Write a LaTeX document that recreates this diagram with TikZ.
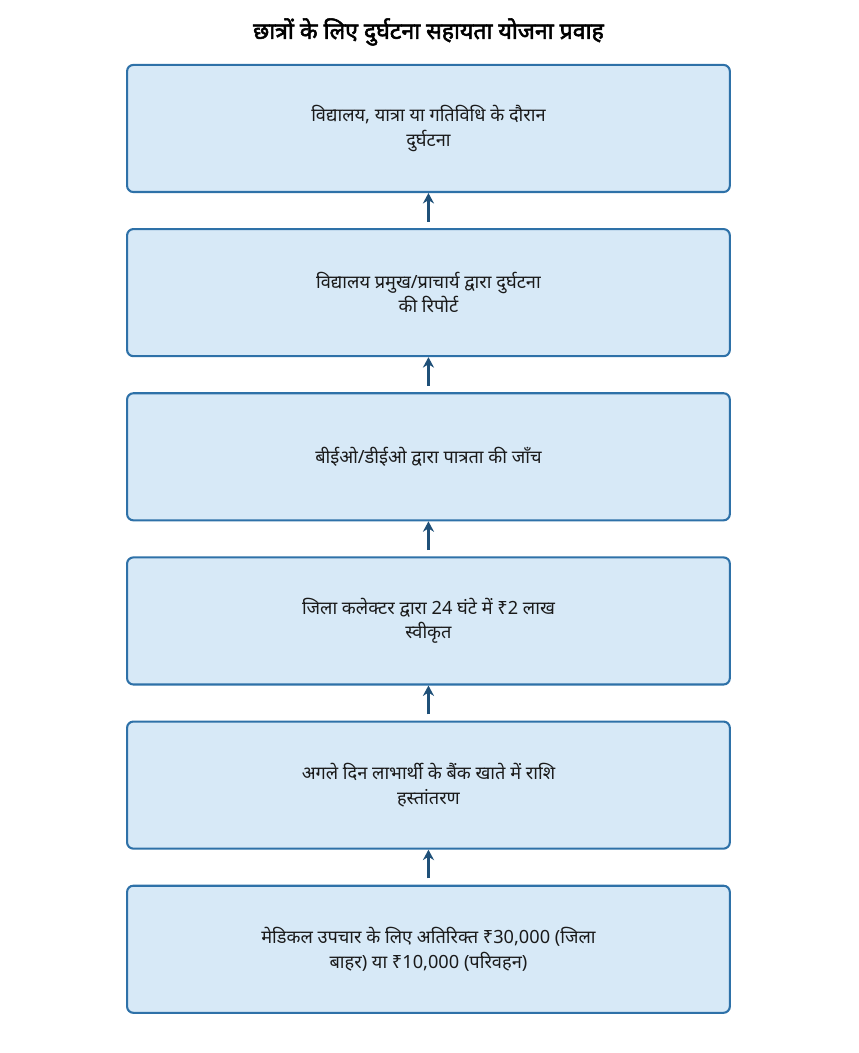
\documentclass[tikz,border=0pt]{standalone}
\usepackage{fontspec}
\setmainfont[Script=Devanagari]{Noto Sans}
\newfontfamily\titlefont[Script=Devanagari, FakeBold=2.4]{Noto Sans}
\usetikzlibrary{positioning}
\usetikzlibrary{arrows.meta}

\definecolor{boxfill}{HTML}{D7E9F7}
\definecolor{boxline}{HTML}{2E71A8}
\definecolor{arrowcol}{HTML}{1F5078}
\definecolor{textcol}{HTML}{1A1A1A}

\tikzset{
    stepbox/.style={draw=boxline, fill=boxfill, line width=1.5pt, rounded corners=4.5pt,
        minimum width=434pt, minimum height=91.5pt, align=center, text=textcol,
        font=\fontsize{13.1}{17.5}\selectfont},
    flowarrow/.style={draw=arrowcol, line width=2.1pt, -{Stealth[length=7.5pt, width=8pt]}}
}

\begin{document}
\begin{tikzpicture}[node distance=25.2pt]
    \useasboundingbox (0,0) rectangle (617.8pt,-758.2pt);
    \node[font=\titlefont\fontsize{16.6}{19}\selectfont, text=black] (title) at (308.5pt,-23pt) {छात्रों के लिए दुर्घटना सहायता योजना प्रवाह};
    \node[stepbox] (accident) at (308.5pt,-92.5pt) {विद्यालय, यात्रा या गतिविधि के दौरान\\दुर्घटना};
    \node[stepbox, below=of accident] (report) {विद्यालय प्रमुख/प्राचार्य द्वारा दुर्घटना\\की रिपोर्ट};
    \node[stepbox, below=of report] (check) {बीईओ/डीईओ द्वारा पात्रता की जाँच};
    \node[stepbox, below=of check] (approve) {जिला कलेक्टर द्वारा 24 घंटे में ₹2 लाख\\स्वीकृत};
    \node[stepbox, below=of approve] (transfer) {अगले दिन लाभार्थी के बैंक खाते में राशि\\हस्तांतरण};
    \node[stepbox, below=of transfer] (medical) {मेडिकल उपचार के लिए अतिरिक्त ₹30,000 (जिला\\बाहर) या ₹10,000 (परिवहन)};
    \draw[flowarrow] ([yshift=4.5pt]report.north) -- (accident.south);
    \draw[flowarrow] ([yshift=4.5pt]check.north) -- (report.south);
    \draw[flowarrow] ([yshift=4.5pt]approve.north) -- (check.south);
    \draw[flowarrow] ([yshift=4.5pt]transfer.north) -- (approve.south);
    \draw[flowarrow] ([yshift=4.5pt]medical.north) -- (transfer.south);
\end{tikzpicture}
\end{document}
